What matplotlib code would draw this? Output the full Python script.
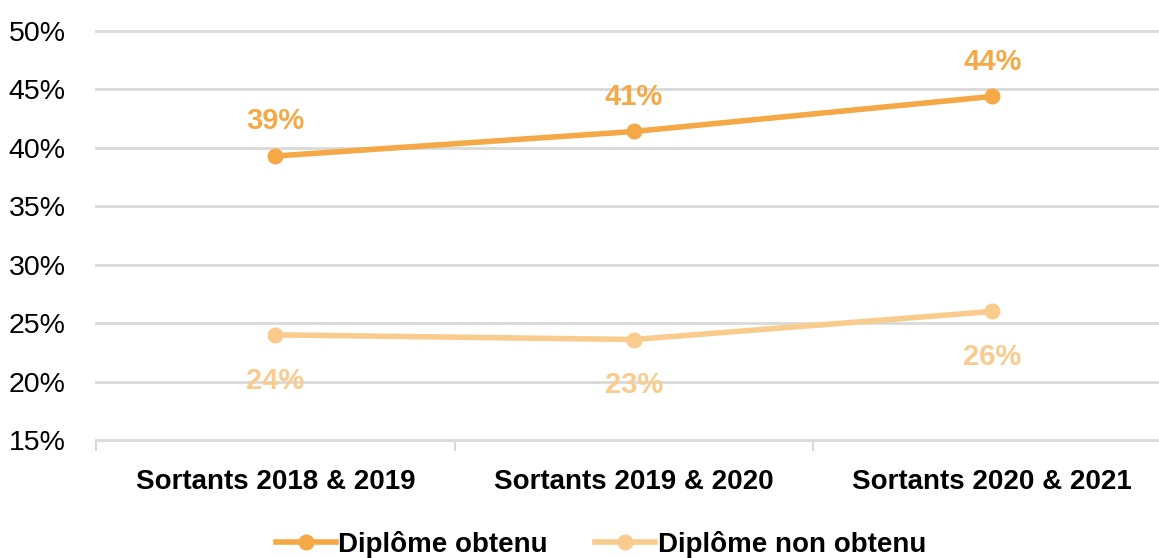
import matplotlib
matplotlib.use('Agg')
import matplotlib.pyplot as plt
from matplotlib.lines import Line2D

plt.rcParams['font.family'] = ['Liberation Sans', 'DejaVu Sans']

categories = ['Sortants 2018 & 2019', 'Sortants 2019 & 2020', 'Sortants 2020 & 2021']
obtenu = [39.3, 41.4, 44.4]
non_obtenu = [24.0, 23.6, 26.0]
obtenu_labels = ['39%', '41%', '44%']
non_obtenu_labels = ['24%', '23%', '26%']
yticks = [15, 20, 25, 30, 35, 40, 45, 50]

orange = '#F5A846'
light = '#F9CB8C'
grid = '#D9D9D9'
fs = 20

fig = plt.figure(figsize=(11.59, 5.58), dpi=100)
ax = fig.add_axes([96/1159, 118/558, 1 - 96/1159, (440 - 31)/558])

xs = list(range(len(categories)))
for y in yticks[1:]:
    ax.axhline(y, color=grid, lw=2, zorder=0, clip_on=False)

ax.plot(xs, obtenu, color=orange, lw=4, marker='o', ms=10.5, zorder=3)
ax.plot(xs, non_obtenu, color=light, lw=4, marker='o', ms=10.5, zorder=3)

for x, v, t in zip(xs, obtenu, obtenu_labels):
    ax.annotate(t, (x, v), xytext=(0, 25), textcoords='offset points',
                ha='center', va='center', color=orange, fontsize=fs + 1, fontweight='bold')
for x, v, t in zip(xs, non_obtenu, non_obtenu_labels):
    ax.annotate(t, (x, v), xytext=(0, -33), textcoords='offset points',
                ha='center', va='center', color=light, fontsize=fs + 1, fontweight='bold')

ax.set_xlim(-0.5, 2.465)
ax.set_ylim(15, 50)
ax.set_yticks(yticks)
ax.set_yticklabels([f'{v}%' for v in yticks], fontsize=fs + 0.5)
ax.tick_params(axis='y', length=0, pad=22)

ax.set_xticks(xs)
ax.set_xticklabels(categories, fontsize=fs, fontweight='bold')
ax.set_xticks([-0.5, 0.5, 1.5], minor=True)
ax.tick_params(axis='x', which='major', length=0, pad=21)
ax.tick_params(axis='x', which='minor', length=8, width=1.5, color=grid)

for s in ['top', 'right', 'left']:
    ax.spines[s].set_visible(False)
ax.spines['bottom'].set_color(grid)
ax.spines['bottom'].set_linewidth(2)

handles = [Line2D([], [], color=orange, lw=4, marker='o', ms=10.5),
           Line2D([], [], color=light, lw=4, marker='o', ms=10.5)]
fig.legend(handles, ['Diplôme obtenu', 'Diplôme non obtenu'], loc='center',
           bbox_to_anchor=(601/1159, 1 - 544/558), ncol=2, frameon=False,
           prop={'size': fs, 'weight': 'bold'}, handlelength=2.15,
           handletextpad=0.1, columnspacing=1.7)

fig.savefig('out.png', dpi=100)
